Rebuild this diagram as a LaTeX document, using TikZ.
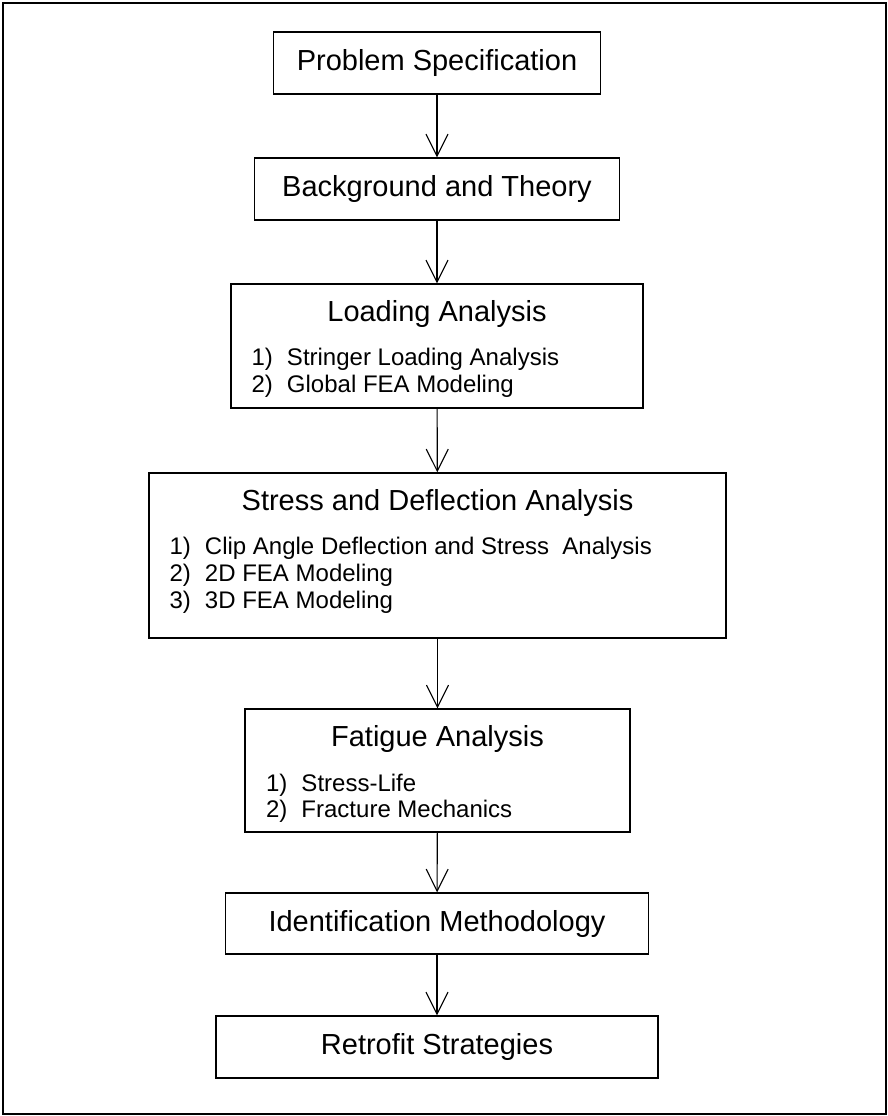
\documentclass[tikz,border=0pt]{standalone}
\usepackage{fontspec}
\setmainfont{Liberation Sans}
\usetikzlibrary{positioning,arrows.meta}

\begin{document}
\begin{tikzpicture}[x=1pt,y=-1pt,
  stepbox/.style={rectangle,draw,line width=1.4pt,inner sep=0pt,font=\fontsize{29}{33}\selectfont},
  titletext/.style={inner sep=0pt,anchor=base,font=\fontsize{29}{33}\selectfont},
  itemtext/.style={inner sep=0pt,anchor=base west,font=\fontsize{24}{27}\selectfont},
  flow/.style={-{Straight Barb[length=22pt,width=22pt]},line width=1.1pt}]
\useasboundingbox (0,0) rectangle (888,1116);
\draw [line width=1.4pt] (3,3) rectangle (886,1114);

% single line steps
\node [stepbox,minimum width=327pt,minimum height=62pt] (spec) at (437,63) {Problem Specification};
\node [stepbox,minimum width=365pt,minimum height=62pt] (theory) at (437,189) {Background and Theory};
\node [stepbox,minimum width=423pt,minimum height=61pt] (ident) at (437,923.5) {Identification Methodology};
\node [stepbox,minimum width=442pt,minimum height=62pt] (retro) at (437,1047) {Retrofit Strategies};

% steps with sub items
\node [stepbox,minimum width=412pt,minimum height=124pt] (load) at (437,346) {};
\node [titletext] (loadtitle) at ([yshift=-38pt]load.north) {Loading Analysis};
\foreach \txt [count=\i] in {Stringer Loading Analysis, Global FEA Modeling}
  \node [itemtext] (load\i) at ([xshift=21pt,yshift={-82.5pt-(\i-1)*26.5pt}]load.north west) {\makebox[35.5pt][l]{\i)}\txt};

\node [stepbox,minimum width=577pt,minimum height=165pt] (stress) at (437.5,555.5) {};
\node [titletext] (stresstitle) at ([yshift=-38.5pt]stress.north) {Stress and Deflection Analysis};
\foreach \txt [count=\i] in {Clip Angle Deflection and Stress~ Analysis, 2D FEA Modeling, 3D FEA Modeling}
  \node [itemtext] (stress\i) at ([xshift=21pt,yshift={-82pt-(\i-1)*27pt}]stress.north west) {\makebox[35.5pt][l]{\i)}\txt};

\node [stepbox,minimum width=385pt,minimum height=123pt] (fatigue) at (437.5,770.5) {};
\node [titletext] (fatiguetitle) at ([yshift=-37.7pt]fatigue.north) {Fatigue Analysis};
\foreach \txt [count=\i] in {Stress-Life, Fracture Mechanics}
  \node [itemtext] (fatigue\i) at ([xshift=21.5pt,yshift={-82.7pt-(\i-1)*26.6pt}]fatigue.north west) {\makebox[35.5pt][l]{\i)}\txt};

% connectors
\draw [flow] (spec) -- (theory);
\draw [flow] (theory) -- (load);
\draw [flow] (load) -- (stress);
\draw [flow] (stress) -- (fatigue);
\draw [flow] (fatigue) -- (ident);
\draw [flow] (ident) -- (retro);
\end{tikzpicture}
\end{document}
